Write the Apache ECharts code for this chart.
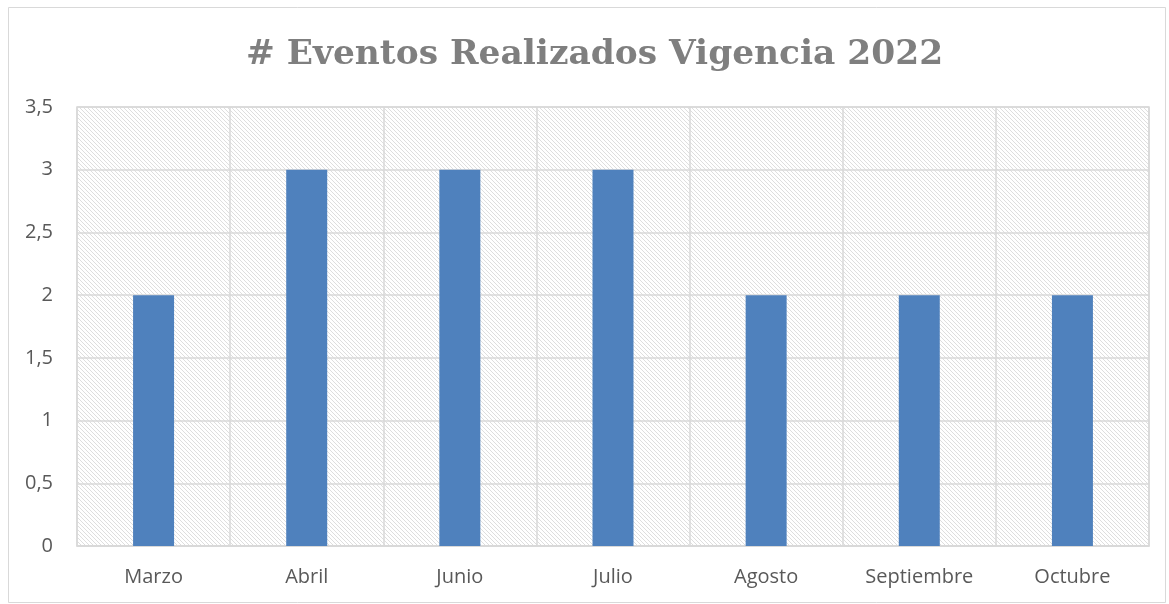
<!DOCTYPE html>
<html><head><meta charset="utf-8">
<script src="https://cdn.jsdelivr.net/npm/echarts@6/dist/echarts.min.js"></script>
<style>html,body{margin:0;padding:0;background:#fff}#c{width:1169px;height:604px}</style>
</head><body><div id="c"></div>
<script>
const categories = ['Marzo','Abril','Junio','Julio','Agosto','Septiembre','Octubre'];
const values = [2,3,3,3,2,2,2];
const yTicks = ['0','0,5','1','1,5','2','2,5','3','3,5'];
const titleText = '# Eventos Realizados Vigencia 2022';

function makePattern(){
  const c = document.createElement('canvas');
  c.width = 4; c.height = 4;
  const ctx = c.getContext('2d');
  ctx.fillStyle = '#ffffff'; ctx.fillRect(0,0,4,4);
  ctx.fillStyle = '#dedede';
  for (let i=0;i<4;i++){ ctx.fillRect(i, i, 1, 1); }
  return c;
}
const chart = echarts.init(document.getElementById('c'));
chart.setOption({
  animation:false,
  backgroundColor:'#ffffff',
  title:{text:titleText,left:241,top:33,
    textStyle:{fontFamily:'DejaVu Serif',fontWeight:'bold',fontSize:34.4,color:'#7f7f7f'}},
  grid:{left:77,right:20,top:107,bottom:58,show:true,borderColor:'#d9d9d9',borderWidth:1.5,
    backgroundColor:{image:makePattern(),repeat:'repeat'}},
  xAxis:{type:'category',data:categories,
    axisLine:{show:true,lineStyle:{color:'#d9d9d9',width:1.5}},
    axisTick:{show:false},
    splitLine:{show:true,lineStyle:{color:'#d9d9d9',width:1.5}},
    axisLabel:{color:'#595959',fontSize:20,fontFamily:'Open Sans',margin:21}},
  yAxis:{type:'value',min:0,max:3.5,interval:0.5,
    axisLine:{show:false},axisTick:{show:false},
    splitLine:{lineStyle:{color:'#d9d9d9',width:1.5}},
    axisLabel:{color:'#595959',fontSize:20,fontFamily:'Open Sans',margin:24,
      formatter:function(v){return yTicks[Math.round(v/0.5)];}}},
  series:[{type:'bar',data:values,barWidth:41,itemStyle:{color:'#4f81bd'}}],
  graphic:[{type:'rect',left:6,top:5,shape:{width:1157,height:595},
    style:{fill:null,stroke:'#d9d9d9',lineWidth:1},silent:true,z:-1}]
});
</script></body></html>
